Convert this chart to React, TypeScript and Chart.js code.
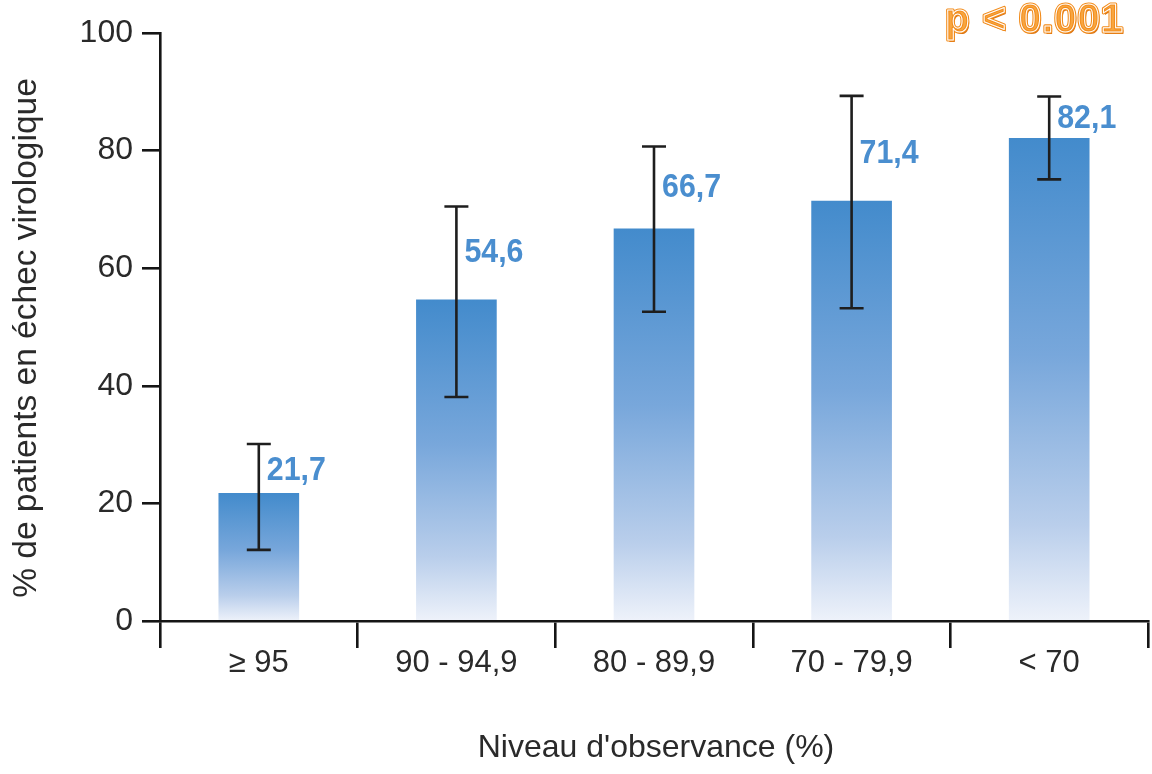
import React, { useEffect, useRef } from "react";
import { Chart, registerables } from "chart.js";

Chart.register(...registerables);

const categories = ["≥ 95", "90 - 94,9", "80 - 89,9", "70 - 79,9", "< 70"];
const values = [21.7, 54.6, 66.7, 71.4, 82.1];
const valueLabels = ["21,7", "54,6", "66,7", "71,4", "82,1"];
const errorLow = [12.1, 38.1, 52.6, 53.2, 75.1];
const errorHigh = [30.1, 70.5, 80.7, 89.3, 89.2];
const labelLevels = [25.7, 62.8, 73.8, 79.6, 85.5];
const yMin = 0;
const yMax = 100;
const yStep = 20;
const xTitle = "Niveau d'observance (%)";
const yTitle = "% de patients en échec virologique";
const pValueText = "p < 0.001";

const FONT = '"Liberation Sans", Arimo, Arial, sans-serif';
const AXIS_COLOR = "#151515";
const TEXT_COLOR = "#2a2a2a";
const LABEL_COLOR = "#4a8ecf";

const overlayPlugin = {
  id: "overlay",
  afterDatasetsDraw(chart: any) {
    const { ctx } = chart;
    const xs = chart.scales.x;
    const ys = chart.scales.y;
    ctx.save();
    // error bars
    ctx.strokeStyle = "#1e1e1e";
    ctx.lineWidth = 2.6;
    ctx.lineCap = "butt";
    values.forEach((_, i) => {
      const cx = xs.getPixelForValue(i);
      const yl = ys.getPixelForValue(errorLow[i]);
      const yh = ys.getPixelForValue(errorHigh[i]);
      ctx.beginPath();
      ctx.moveTo(cx, yl);
      ctx.lineTo(cx, yh);
      ctx.moveTo(cx - 12, yh);
      ctx.lineTo(cx + 12, yh);
      ctx.moveTo(cx - 12, yl);
      ctx.lineTo(cx + 12, yl);
      ctx.stroke();
    });
    // value labels (slightly condensed)
    ctx.fillStyle = LABEL_COLOR;
    ctx.font = `bold 33px ${FONT}`;
    ctx.textAlign = "left";
    ctx.textBaseline = "middle";
    valueLabels.forEach((t, i) => {
      const cx = xs.getPixelForValue(i);
      const y = ys.getPixelForValue(labelLevels[i]);
      ctx.save();
      ctx.translate(cx + 8, y + 1);
      ctx.scale(0.92, 1);
      ctx.fillText(t, 0, 0);
      ctx.restore();
    });
    ctx.restore();
  },
  afterDraw(chart: any) {
    const { ctx, chartArea } = chart;
    ctx.save();
    ctx.fillStyle = TEXT_COLOR;
    ctx.textAlign = "center";
    ctx.textBaseline = "middle";
    // x title
    ctx.font = `32px ${FONT}`;
    ctx.fillText(xTitle, (chartArea.left + chartArea.right) / 2 + 2, chartArea.bottom + 127);
    // y title
    ctx.save();
    ctx.font = `33.5px ${FONT}`;
    ctx.translate(27, (chartArea.top + chartArea.bottom) / 2 + 11);
    ctx.rotate(-Math.PI / 2);
    ctx.fillText(yTitle, 0, 0);
    ctx.restore();
    // p value
    ctx.font = `bold 40px ${FONT}`;
    (ctx as any).letterSpacing = "1px";
    ctx.textAlign = "right";
    ctx.textBaseline = "alphabetic";
    ctx.lineJoin = "round";
    const px = 1124;
    const py = 32;
    ctx.fillStyle = "#d9710f";
    ctx.fillText(pValueText, px + 1.5, py + 1.5);
    ctx.fillStyle = "#f8a640";
    ctx.fillText(pValueText, px, py);
    ctx.strokeStyle = "#f28c1c";
    ctx.lineWidth = 3.2;
    ctx.strokeText(pValueText, px, py);
    ctx.strokeStyle = "#ffffff";
    ctx.lineWidth = 1;
    ctx.strokeText(pValueText, px, py);
    ctx.restore();
  },
};

export default function App() {
  const ref = useRef<HTMLCanvasElement | null>(null);
  useEffect(() => {
    if (!ref.current) return;
    const chart = new Chart(ref.current, {
      type: "bar",
      data: {
        labels: categories,
        datasets: [
          {
            data: values,
            barThickness: 80,
            borderWidth: 0,
            backgroundColor: (c: any) => {
              const ch = c.chart;
              if (!ch.chartArea || c.type !== "data" || !c.parsed) return "#6a9fd6";
              const ys = ch.scales.y;
              const top = ys.getPixelForValue(c.parsed.y);
              const base = ys.getPixelForValue(0);
              const g = ch.ctx.createLinearGradient(0, top, 0, base);
              g.addColorStop(0, "#438bcc");
              g.addColorStop(0.45, "#78a7db");
              g.addColorStop(0.8, "#b9ceeb");
              g.addColorStop(1, "#eef2fa");
              return g;
            },
          },
        ],
      },
      options: {
        responsive: false,
        animation: false,
        layout: { padding: { top: 33, right: 4, left: 0, bottom: 0 } },
        plugins: { legend: { display: false }, tooltip: { enabled: false } },
        scales: {
          x: {
            offset: true,
            grid: {
              offset: true,
              drawOnChartArea: false,
              drawTicks: true,
              tickLength: 27,
              lineWidth: 2.6,
              color: AXIS_COLOR,
            },
            border: { display: true, color: AXIS_COLOR, width: 2.6 },
            ticks: {
              color: TEXT_COLOR,
              font: { family: FONT, size: 31 },
              padding: -3,
              maxRotation: 0,
            },
            afterFit: (s: any) => {
              s.height = 153;
            },
          },
          y: {
            min: yMin,
            max: yMax,
            grid: {
              drawOnChartArea: false,
              drawTicks: true,
              tickLength: 18,
              lineWidth: 2.6,
              color: AXIS_COLOR,
            },
            border: { display: true, color: AXIS_COLOR, width: 2.6 },
            ticks: {
              stepSize: yStep,
              color: TEXT_COLOR,
              font: { family: FONT, size: 32 },
              padding: 9,
            },
            afterFit: (s: any) => {
              s.width = 160;
            },
          },
        },
      },
      plugins: [overlayPlugin],
    });
    return () => chart.destroy();
  }, []);
  return (
    <div style={{ position: "fixed", left: 0, top: 0, width: 1152, height: 774, background: "#fff" }}>
      <canvas ref={ref} width={1152} height={774} style={{ display: "block" }} />
    </div>
  );
}
